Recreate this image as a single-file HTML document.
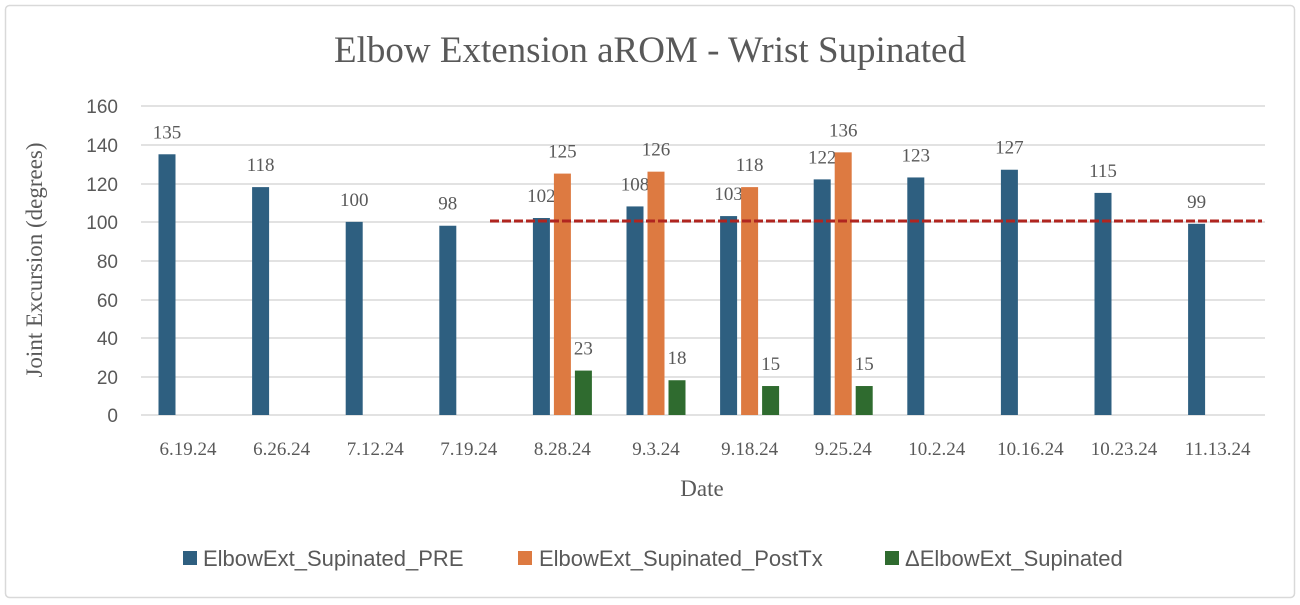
<!DOCTYPE html>
<html><head><meta charset="utf-8"><style>
html,body{margin:0;padding:0;background:#fff;}
svg{display:block;font-family:"Liberation Serif",serif;}
</style></head><body>
<svg width="1300" height="605" viewBox="0 0 1300 605" xmlns="http://www.w3.org/2000/svg">
<rect x="5.5" y="5.5" width="1289" height="592" rx="4" fill="#fff" stroke="#d9d9d9" stroke-width="1.5"/>
<text x="650" y="62" text-anchor="middle" font-size="37" fill="#595959">Elbow Extension aROM - Wrist Supinated</text>
<g stroke="#d9d9d9" stroke-width="1.5">
<line x1="141" x2="1265" y1="106" y2="106"/><line x1="141" x2="1265" y1="145" y2="145"/>
<line x1="141" x2="1265" y1="184" y2="184"/><line x1="141" x2="1265" y1="222" y2="222"/>
<line x1="141" x2="1265" y1="261" y2="261"/><line x1="141" x2="1265" y1="300" y2="300"/>
<line x1="141" x2="1265" y1="338" y2="338"/><line x1="141" x2="1265" y1="377" y2="377"/>
<line x1="141" x2="1265" y1="415" y2="415"/>
</g>
<g font-size="19" fill="#595959" text-anchor="end" font-family="Liberation Sans, sans-serif">
<text x="118" y="113">160</text><text x="118" y="152">140</text><text x="118" y="191">120</text>
<text x="118" y="229">100</text><text x="118" y="268">80</text><text x="118" y="307">60</text>
<text x="118" y="345">40</text><text x="118" y="384">20</text><text x="118" y="422">0</text>
</g>
<text transform="translate(42,260) rotate(-90)" text-anchor="middle" font-size="23" fill="#595959">Joint Excursion (degrees)</text>
<text x="702" y="496" text-anchor="middle" font-size="23" fill="#595959">Date</text>
<g id="bars"></g>
<line x1="490" x2="1262" y1="221" y2="221" stroke="#b0251f" stroke-width="3" stroke-dasharray="9,3"/>
<g font-size="22" fill="#595959" font-family="Liberation Sans, sans-serif">
<rect x="183" y="551" width="14" height="14" fill="#2e5f80"/><text x="203" y="566">ElbowExt_Supinated_PRE</text>
<rect x="518" y="551" width="14" height="14" fill="#dd7a41"/><text x="539" y="566">ElbowExt_Supinated_PostTx</text>
<rect x="885" y="551" width="14" height="14" fill="#2f6b2f"/><text x="905" y="566">ΔElbowExt_Supinated</text>
</g>
<script>
(function(){
var d=["6.19.24","6.26.24","7.12.24","7.19.24","8.28.24","9.3.24","9.18.24","9.25.24","10.2.24","10.16.24","10.23.24","11.13.24"];
var pre=[135,118,100,98,102,108,103,122,123,127,115,99];
var post={4:125,5:126,6:118,7:136};
var del={4:23,5:18,6:15,7:15};
var g=document.getElementById('bars'),ns="http://www.w3.org/2000/svg";
function y(v){return 415-v*1.93125;}
function bar(cx,v,c){var r=document.createElementNS(ns,'rect');r.setAttribute('x',cx-8.5);r.setAttribute('y',y(v));r.setAttribute('width',17);r.setAttribute('height',415-y(v));r.setAttribute('fill',c);g.appendChild(r);
var t=document.createElementNS(ns,'text');t.setAttribute('x',cx);t.setAttribute('y',y(v)-16);t.setAttribute('text-anchor','middle');t.setAttribute('font-size','19');t.setAttribute('fill','#595959');t.textContent=v;g.appendChild(t);}
for(var i=0;i<12;i++){var c=188+i*93.6;
bar(c-21,pre[i],'#2e5f80');
if(post[i]!==undefined)bar(c,post[i],'#dd7a41');
if(del[i]!==undefined)bar(c+21,del[i],'#2f6b2f');
var t=document.createElementNS(ns,'text');t.setAttribute('x',c);t.setAttribute('y',455);t.setAttribute('text-anchor','middle');t.setAttribute('font-size','19');t.setAttribute('fill','#595959');t.textContent=d[i];g.appendChild(t);}
})();
</script>
</svg>
</body></html>
